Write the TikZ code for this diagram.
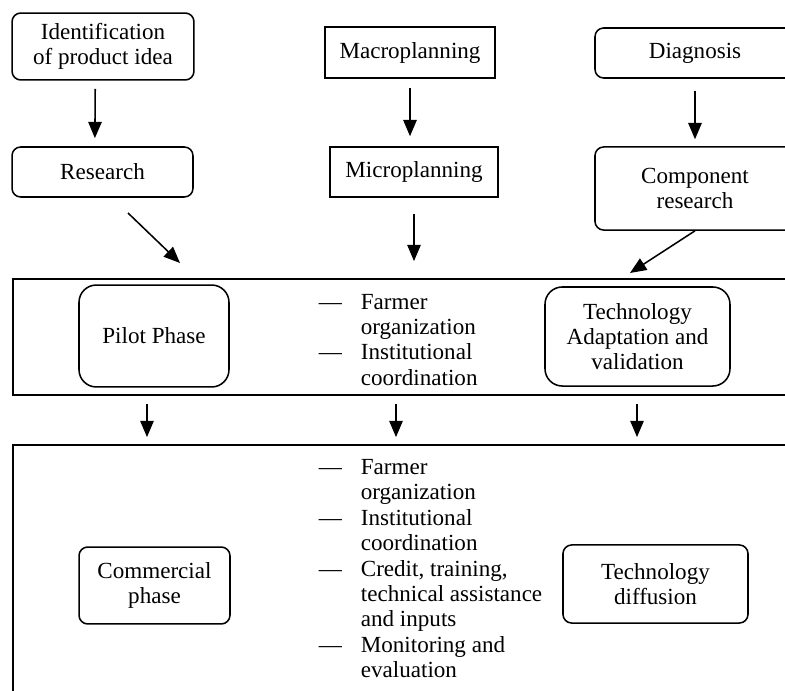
\documentclass[tikz,border=0pt]{standalone}
\usepackage{fontspec}
\setmainfont{Liberation Serif}
\usetikzlibrary{arrows.meta}
\begin{document}
\begin{tikzpicture}[->,>={Triangle[length=8.5pt,width=7pt]},x=0.52pt,y=-0.52pt,line width=0.8pt,font=\fontsize{12}{13.2}\selectfont]
    \tikzstyle{box}=[draw, line width=0.8pt, inner sep=0pt, align=center]
    \tikzstyle{rbox}=[style=box, rounded corners=4.5pt]
    \tikzstyle{pbox}=[style=box, rounded corners=9pt]
    \tikzstyle{row}=[draw, line width=1pt, inner sep=0pt, minimum width=411.8pt]
    \tikzstyle{items}=[inner sep=0pt, anchor=west, align=left]

    \useasboundingbox (0,0) rectangle (785,691);
    \clip (0,0) rectangle (785,691);

    \node[rbox, minimum width=94.6pt, minimum height=34.8pt] (ident) at (103,46.5)  {Identification\\of product idea};
    \node[box,  minimum width=88.4pt, minimum height=26.5pt] (macro) at (410,52.5)  {Macroplanning};
    \node[rbox, minimum width=104pt,  minimum height=26pt]   (diag)  at (695,53)    {Diagnosis};
    \node[rbox, minimum width=94.1pt, minimum height=26pt]   (research) at (102.5,172) {Research};
    \node[box,  minimum width=87.4pt, minimum height=26pt]   (micro) at (414,172)   {Microplanning};
    \node[rbox, minimum width=104pt,  minimum height=43.2pt] (comp)  at (695,188.5) {Component\\research};

    \node[row, minimum height=60.3pt]  (pilotrow) at (409,337) {};
    \node[pbox, minimum width=78pt,   minimum height=53pt]   (pilot) at (154,336)   {Pilot Phase};
    \node[pbox, minimum width=96.2pt, minimum height=51.5pt] (tech)  at (637.5,336.5) {Technology\\Adaptation and\\validation};
    \node[items] (pilotlist) at (318,342) {\begin{tabular}{@{}l@{\hspace{9.9pt}}l@{}}
      --- & Farmer\\ & organization\\ --- & Institutional\\ & coordination\end{tabular}};

    \node[row, minimum height=135.2pt] (lowrow) at (409,575) {};
    \node[rbox, minimum width=78.5pt, minimum height=40pt]   (comm)  at (154.5,585.5) {Commercial\\phase};
    \node[rbox, minimum width=96.2pt, minimum height=40.6pt] (diffu) at (655.5,584) {Technology\\diffusion};
    \node[items] (lowlist) at (318,571) {\begin{tabular}{@{}l@{\hspace{9.9pt}}l@{}}
      --- & Farmer\\ & organization\\ --- & Institutional\\ & coordination\\
      --- & Credit, training,\\ & technical assistance\\ & and inputs\\
      --- & Monitoring and\\ & evaluation\end{tabular}};

    \coordinate (rs1) at (128,213);
    \coordinate (rs2) at (180,263);
    \coordinate (cs2) at (630,273);
    \coordinate (cl) at (147,0);
    \coordinate (cm) at (396,0);
    \coordinate (cr) at (637,0);

    \path
     ([xshift=-4pt]ident.south) edge[shorten <=4.2pt, shorten >=4.2pt] ([xshift=-4pt]research.north)
     (macro.south) edge[shorten <=4.7pt, shorten >=5.2pt] (macro.south |- micro.north)
     (diag.south)  edge[shorten <=6.2pt, shorten >=3.6pt] (comp.north)
     (micro.south) edge[shorten <=8.3pt, shorten >=8.8pt] (micro.south |- pilotrow.north)
     (rs1) edge[] (rs2)
     (comp.south) edge[] (cs2)
     ;
    \foreach \c in {cl,cm,cr}
      \draw[shorten <=4.2pt, shorten >=3.6pt] (pilotrow.south -| \c) -- (lowrow.north -| \c);
\end{tikzpicture}
\end{document}
